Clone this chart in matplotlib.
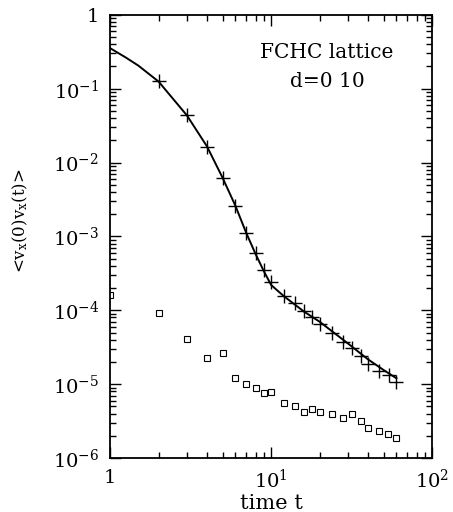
import numpy as np
import matplotlib.pyplot as plt
from matplotlib.ticker import FixedLocator, LogLocator, NullFormatter

plt.rcParams['font.family'] = 'DejaVu Serif'
plt.rcParams['mathtext.fontset'] = 'dejavuserif'

# simulation (crosses)
t_sim = [2, 3, 4, 5, 6, 7, 8, 9, 10, 12, 14, 16, 18, 20, 24, 28, 32, 36, 40, 47, 54, 60]
c_sim = [0.128, 0.0442, 0.0164, 0.0061, 0.00258, 0.00112, 5.9e-4, 3.5e-4, 2.43e-4,
         1.58e-4, 1.24e-4, 9.8e-5, 8.0e-5, 6.5e-5, 4.86e-5, 3.74e-5, 3.05e-5,
         2.42e-5, 1.9e-5, 1.5e-5, 1.32e-5, 1.07e-5]

# theory (solid line)
t_th = [1, 1.25, 1.5, 2, 3, 4, 5, 6, 7, 8, 9, 10, 12, 14, 16, 20, 30, 40, 50, 60]
c_th = [0.354, 0.265, 0.205, 0.125, 0.0435, 0.0165, 0.0062, 0.0026, 0.00112, 5.8e-4,
        3.4e-4, 2.2e-4, 1.55e-4, 1.2e-4, 9.6e-5, 7.0e-5, 3.55e-5, 2.16e-5, 1.55e-5, 1.2e-5]

# difference (squares)
t_diff = [1, 2, 3, 4, 5, 6, 7, 8, 9, 10, 12, 14, 16, 18, 20, 24, 28, 32, 36, 40, 47, 53, 60]
c_diff = [1.6e-4, 9.1e-5, 4.07e-5, 2.23e-5, 2.66e-5, 1.22e-5, 1.0e-5, 8.9e-6, 7.6e-6, 7.9e-6,
          5.5e-6, 5.04e-6, 4.17e-6, 4.57e-6, 4.22e-6, 3.89e-6, 3.47e-6, 3.89e-6,
          3.16e-6, 2.54e-6, 2.31e-6, 2.09e-6, 1.86e-6]

fig = plt.figure(figsize=(4.53, 5.12), dpi=100)
ax = fig.add_axes([0.243, 0.1055, 0.711, 0.8655])

ax.plot(t_th, c_th, color='black', lw=1.4)
ax.plot(t_sim, c_sim, '+', color='black', ms=10, mew=1.0)
ax.plot(t_diff, c_diff, 's', mfc='none', mec='black', ms=5, mew=0.8)

ax.set_xscale('log')
ax.set_yscale('log')
ax.set_xlim(1, 100)
ax.set_ylim(1e-6, 1)

ax.xaxis.set_major_locator(FixedLocator([1, 10, 100]))
ax.set_xticklabels(['1', r'$10^{1}$', r'$10^{2}$'])
ax.yaxis.set_major_locator(FixedLocator([1e-6, 1e-5, 1e-4, 1e-3, 1e-2, 1e-1, 1]))
ax.set_yticklabels([r'$10^{-6}$', r'$10^{-5}$', r'$10^{-4}$', r'$10^{-3}$',
                    r'$10^{-2}$', r'$10^{-1}$', '1'])
ax.xaxis.set_minor_locator(LogLocator(base=10, subs=np.arange(2, 10)))
ax.yaxis.set_minor_locator(LogLocator(base=10, subs=np.arange(2, 10)))
ax.xaxis.set_minor_formatter(NullFormatter())
ax.yaxis.set_minor_formatter(NullFormatter())

ax.tick_params(which='both', direction='in', top=True, right=True, labelsize=14, width=1.0)
ax.tick_params(which='major', length=8, pad=8)
ax.tick_params(which='minor', length=4)
for s in ax.spines.values():
    s.set_linewidth(1.3)

ax.set_xlabel('time t', fontsize=15, labelpad=1)
ax.set_ylabel(r'<v$_\mathrm{x}$(0)v$_\mathrm{x}$(t)>', fontsize=12)
ax.yaxis.set_label_coords(-0.25, 0.535)

ax.text(0.674, 0.916, 'FCHC lattice', transform=ax.transAxes, ha='center', va='center', fontsize=14.5)
ax.text(0.674, 0.849, 'd=0 10', transform=ax.transAxes, ha='center', va='center', fontsize=14.5)

fig.savefig('out.png', dpi=100)
